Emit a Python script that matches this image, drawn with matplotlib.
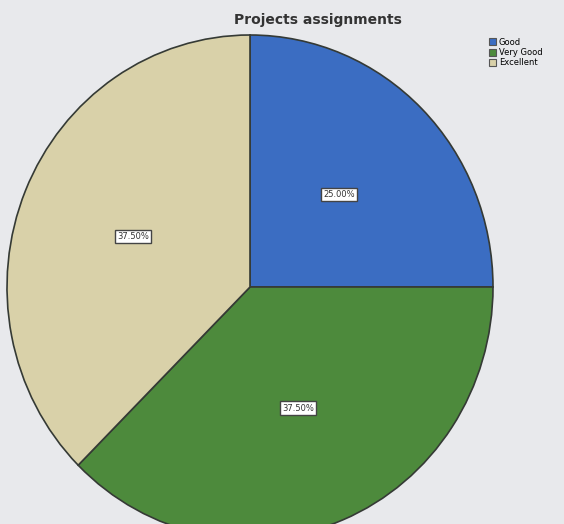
import matplotlib
matplotlib.use('Agg')
import matplotlib.pyplot as plt

labels = ['Good', 'Very Good', 'Excellent']
counts = [2, 3, 3]
colors = ['#3b6dc2', '#4d8a3c', '#d9d1a9']
title = 'Projects assignments'

fig = plt.figure(figsize=(5.64, 5.24), dpi=100)
fig.patch.set_facecolor('#e8e9ec')

# pie centre ~ (250, 287) px, slightly squashed by the photo
cx, cy, rx, ry = 250, 287, 243, 252
W, H = 564, 524
ax = fig.add_axes([(cx - rx) / W, (H - cy - ry) / H, 2 * rx / W, 2 * ry / H])
ax.set_facecolor('none')

wedges, texts, autotexts = ax.pie(
    counts, colors=colors, startangle=90, counterclock=False,
    autopct='%1.2f%%', pctdistance=0.52, radius=1.0,
    wedgeprops=dict(edgecolor='#353a35', linewidth=1.2))
for t in autotexts:
    t.set_fontsize(6)
    t.set_color('#333333')
    t.set_bbox(dict(boxstyle='square,pad=0.25', facecolor='white', edgecolor='#444444', linewidth=1))
ax.set_xlim(-1, 1)
ax.set_ylim(-1, 1)
ax.set_aspect('auto')

fig.text(318 / W, 1 - 20 / H, title, ha='center', va='center',
         fontsize=10, fontweight='bold', color='#333333')

leg = fig.legend(wedges, labels, loc='upper left', bbox_to_anchor=(483 / W, 1 - 32 / H),
                 fontsize=6, frameon=False, handlelength=0.9, handleheight=0.9,
                 handletextpad=0.3, labelspacing=0.15, borderpad=0.2)
for h in leg.legend_handles:
    h.set_edgecolor('#555555')
    h.set_linewidth(0.8)

fig.savefig('out.png', dpi=100, facecolor=fig.get_facecolor())
